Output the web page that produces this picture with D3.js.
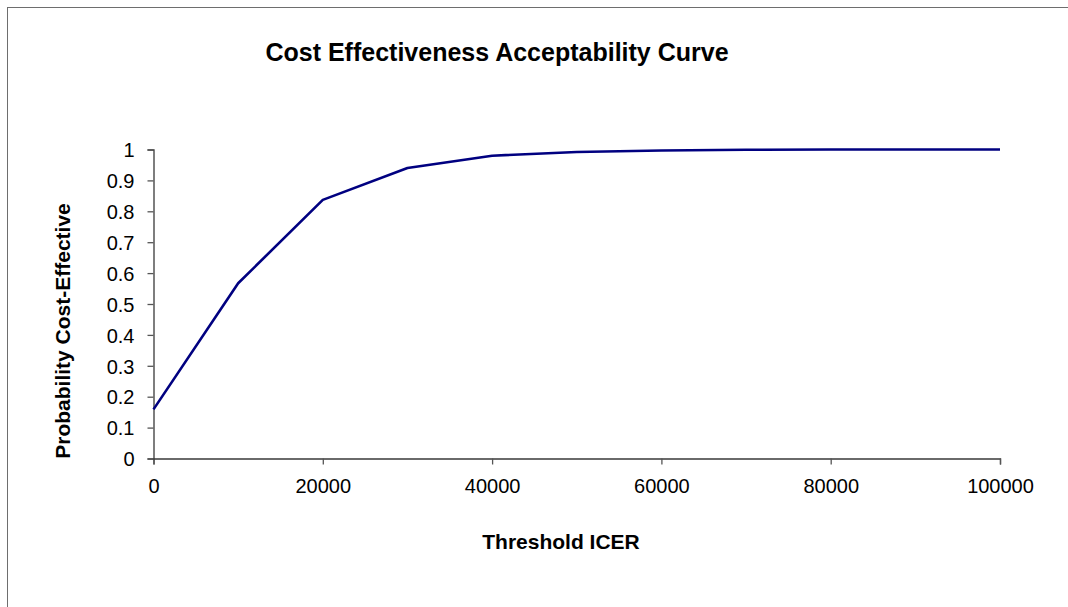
<!DOCTYPE html>
<html>
<head>
<meta charset="utf-8">
<script src="https://cdn.jsdelivr.net/npm/d3@7"></script>
<style>
  body { margin: 0; background: #fff; }
  svg { display: block; }
</style>
</head>
<body>
<div id="chart"></div>
<script>

// threshold values (x) and probability cost-effective (y)
const thresholds = [0, 10000, 20000, 30000, 40000, 50000, 60000, 70000, 80000, 90000, 100000];
const probCE = [0.159, 0.567, 0.837, 0.940, 0.980, 0.992, 0.997, 0.999, 1, 1, 1];

const xTicks = [0, 20000, 40000, 60000, 80000, 100000];
const yTicks = [0, 0.1, 0.2, 0.3, 0.4, 0.5, 0.6, 0.7, 0.8, 0.9, 1];

const chartTitle = 'Cost Effectiveness Acceptability Curve';
const xAxisTitle = 'Threshold ICER';
const yAxisTitle = 'Probability Cost-Effective';

let width = 1068;
let height = 607;
let font = 'Liberation Sans, Arial, sans-serif';

let svg = d3.select('#chart').append('svg')
  .attr('width', width)
  .attr('height', height);

// outer chart border (runs off the right and bottom edge)
svg.append('rect')
  .attr('x', 7.5)
  .attr('y', 7.5)
  .attr('width', width + 20)
  .attr('height', height + 20)
  .attr('fill', 'none')
  .attr('stroke', '#6e6e6e')
  .attr('stroke-width', 1);

let x = d3.scaleLinear().domain([0, 100000]).range([153.5, 1000]);
let y = d3.scaleLinear().domain([0, 1]).range([458.5, 149.5]);

// x axis
let xAxis = svg.append('g')
  .attr('transform', 'translate(0,' + y(0) + ')')
  .call(d3.axisBottom(x).tickValues(xTicks).tickSize(6).tickPadding(14).tickFormat(d3.format('d')));

// y axis
let yAxis = svg.append('g')
  .attr('transform', 'translate(' + x(0) + ',0)')
  .call(d3.axisLeft(y).tickValues(yTicks).tickSize(6).tickPadding(13).tickFormat(d => d));

for (let ax of [xAxis, yAxis]) {
  ax.select('.domain').attr('stroke', '#3a3a3a').attr('stroke-width', 1.3);
  ax.selectAll('.tick line').attr('stroke', '#555').attr('stroke-width', 1.3);
  ax.selectAll('.tick text')
    .attr('font-size', 20)
    .attr('font-family', font)
    .attr('fill', '#000');
}
yAxis.selectAll('.tick text').attr('dy', '0.36em');

// the curve
let line = d3.line()
  .x((d, i) => x(thresholds[i]))
  .y(d => y(d));

svg.append('path')
  .datum(probCE)
  .attr('d', line)
  .attr('fill', 'none')
  .attr('stroke', '#000080')
  .attr('stroke-width', 2.6)
  .attr('stroke-linejoin', 'round');

// titles
svg.append('text')
  .text(chartTitle)
  .attr('x', 497)
  .attr('y', 61)
  .attr('text-anchor', 'middle')
  .attr('font-size', 25)
  .attr('font-weight', 'bold')
  .attr('font-family', font);

svg.append('text')
  .text(xAxisTitle)
  .attr('x', 561)
  .attr('y', 549)
  .attr('text-anchor', 'middle')
  .attr('font-size', 21)
  .attr('font-weight', 'bold')
  .attr('font-family', font);

svg.append('text')
  .text(yAxisTitle)
  .attr('transform', 'translate(70,331) rotate(-90)')
  .attr('text-anchor', 'middle')
  .attr('font-size', 21)
  .attr('font-weight', 'bold')
  .attr('font-family', font);

</script>
</body>
</html>
